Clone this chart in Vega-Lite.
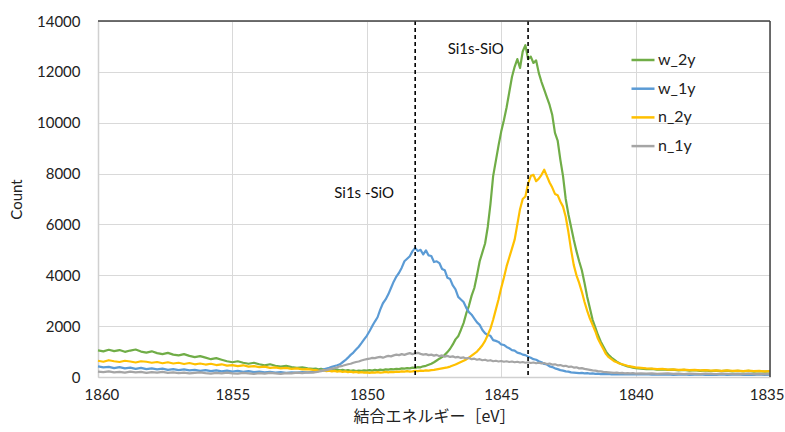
{
  "$schema": "https://vega.github.io/schema/vega-lite/v6.json",
  "width": 672,
  "height": 356,
  "autosize": {"type": "none"},
  "padding": {"left": 98, "top": 21, "right": 15, "bottom": 55},
  "background": "white",
  "config": {
    "view": {"stroke": null},
    "font": "Lato",
    "axis": {
      "gridColor": "#d9d9d9",
      "gridWidth": 1,
      "domainColor": "#d0d0d0",
      "domainWidth": 1.5,
      "ticks": false,
      "labelColor": "#222222",
      "titleColor": "#222222",
      "labelFont": "Lato",
      "labelFontSize": 15,
      "titleFontWeight": "normal"
    }
  },
  "data": {
    "values": [
      {"e": 1860.0, "w_2y": 1050, "w_1y": 420, "n_2y": 640, "n_1y": 210},
      {"e": 1859.8, "w_2y": 1010, "w_1y": 380, "n_2y": 600, "n_1y": 190},
      {"e": 1859.6, "w_2y": 1070, "w_1y": 400, "n_2y": 660, "n_1y": 220},
      {"e": 1859.4, "w_2y": 1020, "w_1y": 350, "n_2y": 620, "n_1y": 180},
      {"e": 1859.2, "w_2y": 1060, "w_1y": 390, "n_2y": 590, "n_1y": 200},
      {"e": 1859.0, "w_2y": 990, "w_1y": 340, "n_2y": 640, "n_1y": 170},
      {"e": 1858.8, "w_2y": 1040, "w_1y": 370, "n_2y": 610, "n_1y": 210},
      {"e": 1858.6, "w_2y": 1080, "w_1y": 320, "n_2y": 570, "n_1y": 180},
      {"e": 1858.4, "w_2y": 1000, "w_1y": 360, "n_2y": 620, "n_1y": 200},
      {"e": 1858.2, "w_2y": 960, "w_1y": 310, "n_2y": 600, "n_1y": 160},
      {"e": 1858.0, "w_2y": 1010, "w_1y": 340, "n_2y": 560, "n_1y": 190},
      {"e": 1857.8, "w_2y": 940, "w_1y": 300, "n_2y": 590, "n_1y": 170},
      {"e": 1857.6, "w_2y": 900, "w_1y": 330, "n_2y": 540, "n_1y": 200},
      {"e": 1857.4, "w_2y": 950, "w_1y": 280, "n_2y": 580, "n_1y": 160},
      {"e": 1857.2, "w_2y": 880, "w_1y": 310, "n_2y": 530, "n_1y": 180},
      {"e": 1857.0, "w_2y": 850, "w_1y": 270, "n_2y": 560, "n_1y": 150},
      {"e": 1856.8, "w_2y": 900, "w_1y": 300, "n_2y": 510, "n_1y": 170},
      {"e": 1856.6, "w_2y": 830, "w_1y": 260, "n_2y": 550, "n_1y": 140},
      {"e": 1856.4, "w_2y": 780, "w_1y": 280, "n_2y": 500, "n_1y": 160},
      {"e": 1856.2, "w_2y": 820, "w_1y": 240, "n_2y": 530, "n_1y": 180},
      {"e": 1856.0, "w_2y": 760, "w_1y": 270, "n_2y": 490, "n_1y": 150},
      {"e": 1855.8, "w_2y": 700, "w_1y": 230, "n_2y": 520, "n_1y": 130},
      {"e": 1855.6, "w_2y": 740, "w_1y": 260, "n_2y": 470, "n_1y": 160},
      {"e": 1855.4, "w_2y": 680, "w_1y": 220, "n_2y": 500, "n_1y": 140},
      {"e": 1855.2, "w_2y": 620, "w_1y": 250, "n_2y": 450, "n_1y": 170},
      {"e": 1855.0, "w_2y": 580, "w_1y": 210, "n_2y": 470, "n_1y": 140},
      {"e": 1854.8, "w_2y": 620, "w_1y": 240, "n_2y": 430, "n_1y": 130},
      {"e": 1854.6, "w_2y": 560, "w_1y": 200, "n_2y": 460, "n_1y": 160},
      {"e": 1854.4, "w_2y": 520, "w_1y": 230, "n_2y": 410, "n_1y": 140},
      {"e": 1854.2, "w_2y": 560, "w_1y": 190, "n_2y": 430, "n_1y": 120},
      {"e": 1854.0, "w_2y": 500, "w_1y": 210, "n_2y": 390, "n_1y": 150},
      {"e": 1853.8, "w_2y": 460, "w_1y": 180, "n_2y": 410, "n_1y": 130},
      {"e": 1853.6, "w_2y": 500, "w_1y": 200, "n_2y": 360, "n_1y": 160},
      {"e": 1853.4, "w_2y": 440, "w_1y": 170, "n_2y": 380, "n_1y": 140},
      {"e": 1853.2, "w_2y": 410, "w_1y": 190, "n_2y": 340, "n_1y": 120},
      {"e": 1853.0, "w_2y": 440, "w_1y": 160, "n_2y": 360, "n_1y": 150},
      {"e": 1852.8, "w_2y": 390, "w_1y": 180, "n_2y": 320, "n_1y": 140},
      {"e": 1852.6, "w_2y": 360, "w_1y": 170, "n_2y": 340, "n_1y": 170},
      {"e": 1852.4, "w_2y": 380, "w_1y": 190, "n_2y": 300, "n_1y": 150},
      {"e": 1852.2, "w_2y": 340, "w_1y": 180, "n_2y": 310, "n_1y": 180},
      {"e": 1852.0, "w_2y": 320, "w_1y": 200, "n_2y": 280, "n_1y": 170},
      {"e": 1851.9, "w_2y": 330, "w_1y": 210, "n_2y": 270, "n_1y": 190},
      {"e": 1851.8, "w_2y": 300, "w_1y": 230, "n_2y": 250, "n_1y": 210},
      {"e": 1851.7, "w_2y": 320, "w_1y": 270, "n_2y": 240, "n_1y": 230},
      {"e": 1851.6, "w_2y": 290, "w_1y": 300, "n_2y": 260, "n_1y": 250},
      {"e": 1851.5, "w_2y": 310, "w_1y": 330, "n_2y": 230, "n_1y": 270},
      {"e": 1851.4, "w_2y": 280, "w_1y": 360, "n_2y": 250, "n_1y": 300},
      {"e": 1851.3, "w_2y": 300, "w_1y": 400, "n_2y": 220, "n_1y": 330},
      {"e": 1851.2, "w_2y": 270, "w_1y": 430, "n_2y": 240, "n_1y": 350},
      {"e": 1851.1, "w_2y": 290, "w_1y": 460, "n_2y": 210, "n_1y": 380},
      {"e": 1851.0, "w_2y": 260, "w_1y": 500, "n_2y": 230, "n_1y": 420},
      {"e": 1850.9, "w_2y": 280, "w_1y": 580, "n_2y": 200, "n_1y": 440},
      {"e": 1850.8, "w_2y": 250, "w_1y": 660, "n_2y": 220, "n_1y": 470},
      {"e": 1850.7, "w_2y": 270, "w_1y": 760, "n_2y": 190, "n_1y": 500},
      {"e": 1850.6, "w_2y": 240, "w_1y": 870, "n_2y": 210, "n_1y": 520},
      {"e": 1850.5, "w_2y": 260, "w_1y": 960, "n_2y": 180, "n_1y": 560},
      {"e": 1850.4, "w_2y": 230, "w_1y": 1080, "n_2y": 200, "n_1y": 590},
      {"e": 1850.3, "w_2y": 250, "w_1y": 1190, "n_2y": 170, "n_1y": 610},
      {"e": 1850.2, "w_2y": 240, "w_1y": 1330, "n_2y": 190, "n_1y": 650},
      {"e": 1850.1, "w_2y": 260, "w_1y": 1480, "n_2y": 170, "n_1y": 680},
      {"e": 1850.0, "w_2y": 250, "w_1y": 1620, "n_2y": 180, "n_1y": 700},
      {"e": 1849.9, "w_2y": 270, "w_1y": 1800, "n_2y": 160, "n_1y": 720},
      {"e": 1849.8, "w_2y": 250, "w_1y": 2000, "n_2y": 180, "n_1y": 750},
      {"e": 1849.7, "w_2y": 280, "w_1y": 2180, "n_2y": 170, "n_1y": 740},
      {"e": 1849.6, "w_2y": 260, "w_1y": 2350, "n_2y": 190, "n_1y": 770},
      {"e": 1849.5, "w_2y": 290, "w_1y": 2650, "n_2y": 170, "n_1y": 790},
      {"e": 1849.4, "w_2y": 270, "w_1y": 2900, "n_2y": 180, "n_1y": 760},
      {"e": 1849.3, "w_2y": 300, "w_1y": 3050, "n_2y": 200, "n_1y": 800},
      {"e": 1849.2, "w_2y": 290, "w_1y": 3250, "n_2y": 180, "n_1y": 830},
      {"e": 1849.1, "w_2y": 310, "w_1y": 3500, "n_2y": 200, "n_1y": 810},
      {"e": 1849.0, "w_2y": 300, "w_1y": 3750, "n_2y": 190, "n_1y": 850},
      {"e": 1848.9, "w_2y": 320, "w_1y": 3950, "n_2y": 210, "n_1y": 880},
      {"e": 1848.8, "w_2y": 310, "w_1y": 4100, "n_2y": 200, "n_1y": 860},
      {"e": 1848.7, "w_2y": 340, "w_1y": 4300, "n_2y": 220, "n_1y": 900},
      {"e": 1848.6, "w_2y": 330, "w_1y": 4550, "n_2y": 210, "n_1y": 870},
      {"e": 1848.5, "w_2y": 350, "w_1y": 4650, "n_2y": 230, "n_1y": 910},
      {"e": 1848.4, "w_2y": 340, "w_1y": 4750, "n_2y": 210, "n_1y": 940},
      {"e": 1848.3, "w_2y": 370, "w_1y": 4950, "n_2y": 220, "n_1y": 900},
      {"e": 1848.2, "w_2y": 360, "w_1y": 5080, "n_2y": 240, "n_1y": 930},
      {"e": 1848.1, "w_2y": 390, "w_1y": 4950, "n_2y": 230, "n_1y": 950},
      {"e": 1848.0, "w_2y": 380, "w_1y": 5000, "n_2y": 250, "n_1y": 910},
      {"e": 1847.9, "w_2y": 420, "w_1y": 4820, "n_2y": 240, "n_1y": 880},
      {"e": 1847.8, "w_2y": 440, "w_1y": 4980, "n_2y": 260, "n_1y": 900},
      {"e": 1847.7, "w_2y": 480, "w_1y": 4780, "n_2y": 250, "n_1y": 860},
      {"e": 1847.6, "w_2y": 520, "w_1y": 4760, "n_2y": 270, "n_1y": 880},
      {"e": 1847.5, "w_2y": 580, "w_1y": 4520, "n_2y": 280, "n_1y": 840},
      {"e": 1847.4, "w_2y": 650, "w_1y": 4550, "n_2y": 300, "n_1y": 870},
      {"e": 1847.3, "w_2y": 720, "w_1y": 4480, "n_2y": 320, "n_1y": 820},
      {"e": 1847.2, "w_2y": 780, "w_1y": 4250, "n_2y": 340, "n_1y": 850},
      {"e": 1847.1, "w_2y": 870, "w_1y": 4200, "n_2y": 360, "n_1y": 800},
      {"e": 1847.0, "w_2y": 980, "w_1y": 3900, "n_2y": 380, "n_1y": 830},
      {"e": 1846.9, "w_2y": 1110, "w_1y": 3850, "n_2y": 410, "n_1y": 790},
      {"e": 1846.8, "w_2y": 1280, "w_1y": 3600, "n_2y": 450, "n_1y": 810},
      {"e": 1846.7, "w_2y": 1480, "w_1y": 3450, "n_2y": 490, "n_1y": 770},
      {"e": 1846.6, "w_2y": 1600, "w_1y": 3150, "n_2y": 540, "n_1y": 790},
      {"e": 1846.5, "w_2y": 1850, "w_1y": 3050, "n_2y": 590, "n_1y": 750},
      {"e": 1846.4, "w_2y": 2120, "w_1y": 2950, "n_2y": 640, "n_1y": 770},
      {"e": 1846.3, "w_2y": 2500, "w_1y": 2720, "n_2y": 690, "n_1y": 730},
      {"e": 1846.2, "w_2y": 2800, "w_1y": 2550, "n_2y": 760, "n_1y": 750},
      {"e": 1846.1, "w_2y": 3200, "w_1y": 2450, "n_2y": 840, "n_1y": 700},
      {"e": 1846.0, "w_2y": 3500, "w_1y": 2300, "n_2y": 920, "n_1y": 720},
      {"e": 1845.9, "w_2y": 4000, "w_1y": 2150, "n_2y": 1000, "n_1y": 680},
      {"e": 1845.8, "w_2y": 4550, "w_1y": 2050, "n_2y": 1120, "n_1y": 700},
      {"e": 1845.7, "w_2y": 4900, "w_1y": 1850, "n_2y": 1250, "n_1y": 660},
      {"e": 1845.6, "w_2y": 5250, "w_1y": 1720, "n_2y": 1420, "n_1y": 680},
      {"e": 1845.5, "w_2y": 5900, "w_1y": 1650, "n_2y": 1650, "n_1y": 640},
      {"e": 1845.4, "w_2y": 6800, "w_1y": 1620, "n_2y": 1900, "n_1y": 660},
      {"e": 1845.3, "w_2y": 7900, "w_1y": 1450, "n_2y": 2250, "n_1y": 620},
      {"e": 1845.2, "w_2y": 8500, "w_1y": 1420, "n_2y": 2650, "n_1y": 640},
      {"e": 1845.1, "w_2y": 9100, "w_1y": 1380, "n_2y": 3050, "n_1y": 610},
      {"e": 1845.0, "w_2y": 9650, "w_1y": 1280, "n_2y": 3500, "n_1y": 630},
      {"e": 1844.9, "w_2y": 10100, "w_1y": 1260, "n_2y": 3900, "n_1y": 600},
      {"e": 1844.8, "w_2y": 10600, "w_1y": 1180, "n_2y": 4350, "n_1y": 620},
      {"e": 1844.7, "w_2y": 11200, "w_1y": 1130, "n_2y": 4700, "n_1y": 590},
      {"e": 1844.6, "w_2y": 11800, "w_1y": 1060, "n_2y": 5050, "n_1y": 610},
      {"e": 1844.5, "w_2y": 12200, "w_1y": 1040, "n_2y": 5400, "n_1y": 580},
      {"e": 1844.4, "w_2y": 12500, "w_1y": 960, "n_2y": 6000, "n_1y": 600},
      {"e": 1844.3, "w_2y": 12150, "w_1y": 930, "n_2y": 6600, "n_1y": 570},
      {"e": 1844.2, "w_2y": 12800, "w_1y": 880, "n_2y": 7000, "n_1y": 590},
      {"e": 1844.1, "w_2y": 13050, "w_1y": 860, "n_2y": 7100, "n_1y": 560},
      {"e": 1844.0, "w_2y": 12500, "w_1y": 800, "n_2y": 7600, "n_1y": 580},
      {"e": 1843.9, "w_2y": 12600, "w_1y": 760, "n_2y": 7900, "n_1y": 550},
      {"e": 1843.8, "w_2y": 12350, "w_1y": 700, "n_2y": 7950, "n_1y": 570},
      {"e": 1843.7, "w_2y": 12450, "w_1y": 680, "n_2y": 7700, "n_1y": 540},
      {"e": 1843.6, "w_2y": 11950, "w_1y": 620, "n_2y": 7800, "n_1y": 560},
      {"e": 1843.5, "w_2y": 11600, "w_1y": 580, "n_2y": 7950, "n_1y": 530},
      {"e": 1843.4, "w_2y": 11300, "w_1y": 510, "n_2y": 8150, "n_1y": 550},
      {"e": 1843.3, "w_2y": 11000, "w_1y": 490, "n_2y": 7900, "n_1y": 510},
      {"e": 1843.2, "w_2y": 10700, "w_1y": 420, "n_2y": 7650, "n_1y": 530},
      {"e": 1843.1, "w_2y": 10300, "w_1y": 390, "n_2y": 7450, "n_1y": 490},
      {"e": 1843.0, "w_2y": 9600, "w_1y": 340, "n_2y": 7200, "n_1y": 500},
      {"e": 1842.9, "w_2y": 9300, "w_1y": 310, "n_2y": 7150, "n_1y": 460},
      {"e": 1842.8, "w_2y": 8550, "w_1y": 270, "n_2y": 6900, "n_1y": 470},
      {"e": 1842.7, "w_2y": 7900, "w_1y": 250, "n_2y": 6700, "n_1y": 430},
      {"e": 1842.6, "w_2y": 7000, "w_1y": 220, "n_2y": 6300, "n_1y": 440},
      {"e": 1842.5, "w_2y": 6400, "w_1y": 210, "n_2y": 5700, "n_1y": 400},
      {"e": 1842.4, "w_2y": 5900, "w_1y": 180, "n_2y": 5000, "n_1y": 410},
      {"e": 1842.3, "w_2y": 5400, "w_1y": 170, "n_2y": 4400, "n_1y": 370},
      {"e": 1842.2, "w_2y": 4950, "w_1y": 160, "n_2y": 4000, "n_1y": 380},
      {"e": 1842.1, "w_2y": 4550, "w_1y": 150, "n_2y": 3700, "n_1y": 340},
      {"e": 1842.0, "w_2y": 4200, "w_1y": 160, "n_2y": 3350, "n_1y": 350},
      {"e": 1841.9, "w_2y": 3700, "w_1y": 140, "n_2y": 2950, "n_1y": 320},
      {"e": 1841.8, "w_2y": 3150, "w_1y": 150, "n_2y": 2600, "n_1y": 300},
      {"e": 1841.7, "w_2y": 2700, "w_1y": 130, "n_2y": 2300, "n_1y": 280},
      {"e": 1841.6, "w_2y": 2250, "w_1y": 140, "n_2y": 2050, "n_1y": 260},
      {"e": 1841.5, "w_2y": 1950, "w_1y": 120, "n_2y": 1800, "n_1y": 250},
      {"e": 1841.4, "w_2y": 1650, "w_1y": 130, "n_2y": 1500, "n_1y": 230},
      {"e": 1841.3, "w_2y": 1400, "w_1y": 110, "n_2y": 1300, "n_1y": 220},
      {"e": 1841.2, "w_2y": 1200, "w_1y": 120, "n_2y": 1100, "n_1y": 200},
      {"e": 1841.1, "w_2y": 1000, "w_1y": 110, "n_2y": 900, "n_1y": 190},
      {"e": 1841.0, "w_2y": 860, "w_1y": 120, "n_2y": 780, "n_1y": 180},
      {"e": 1840.9, "w_2y": 760, "w_1y": 100, "n_2y": 700, "n_1y": 170},
      {"e": 1840.8, "w_2y": 680, "w_1y": 110, "n_2y": 620, "n_1y": 160},
      {"e": 1840.7, "w_2y": 600, "w_1y": 100, "n_2y": 580, "n_1y": 170},
      {"e": 1840.6, "w_2y": 540, "w_1y": 110, "n_2y": 530, "n_1y": 150},
      {"e": 1840.5, "w_2y": 490, "w_1y": 100, "n_2y": 500, "n_1y": 160},
      {"e": 1840.4, "w_2y": 450, "w_1y": 110, "n_2y": 470, "n_1y": 140},
      {"e": 1840.3, "w_2y": 420, "w_1y": 100, "n_2y": 440, "n_1y": 150},
      {"e": 1840.2, "w_2y": 400, "w_1y": 110, "n_2y": 420, "n_1y": 140},
      {"e": 1840.1, "w_2y": 370, "w_1y": 100, "n_2y": 400, "n_1y": 150},
      {"e": 1840.0, "w_2y": 350, "w_1y": 110, "n_2y": 380, "n_1y": 130},
      {"e": 1839.8, "w_2y": 330, "w_1y": 100, "n_2y": 360, "n_1y": 140},
      {"e": 1839.6, "w_2y": 310, "w_1y": 110, "n_2y": 340, "n_1y": 130},
      {"e": 1839.4, "w_2y": 320, "w_1y": 90, "n_2y": 330, "n_1y": 140},
      {"e": 1839.2, "w_2y": 290, "w_1y": 100, "n_2y": 310, "n_1y": 120},
      {"e": 1839.0, "w_2y": 300, "w_1y": 90, "n_2y": 320, "n_1y": 130},
      {"e": 1838.8, "w_2y": 280, "w_1y": 100, "n_2y": 290, "n_1y": 140},
      {"e": 1838.6, "w_2y": 290, "w_1y": 80, "n_2y": 300, "n_1y": 120},
      {"e": 1838.4, "w_2y": 260, "w_1y": 90, "n_2y": 280, "n_1y": 130},
      {"e": 1838.2, "w_2y": 280, "w_1y": 100, "n_2y": 290, "n_1y": 110},
      {"e": 1838.0, "w_2y": 250, "w_1y": 80, "n_2y": 270, "n_1y": 130},
      {"e": 1837.8, "w_2y": 270, "w_1y": 90, "n_2y": 280, "n_1y": 120},
      {"e": 1837.6, "w_2y": 240, "w_1y": 100, "n_2y": 260, "n_1y": 110},
      {"e": 1837.4, "w_2y": 260, "w_1y": 80, "n_2y": 270, "n_1y": 130},
      {"e": 1837.2, "w_2y": 230, "w_1y": 90, "n_2y": 250, "n_1y": 120},
      {"e": 1837.0, "w_2y": 250, "w_1y": 80, "n_2y": 260, "n_1y": 110},
      {"e": 1836.8, "w_2y": 230, "w_1y": 100, "n_2y": 240, "n_1y": 130},
      {"e": 1836.6, "w_2y": 250, "w_1y": 80, "n_2y": 260, "n_1y": 120},
      {"e": 1836.4, "w_2y": 220, "w_1y": 90, "n_2y": 240, "n_1y": 110},
      {"e": 1836.2, "w_2y": 240, "w_1y": 100, "n_2y": 250, "n_1y": 120},
      {"e": 1836.0, "w_2y": 220, "w_1y": 80, "n_2y": 230, "n_1y": 110},
      {"e": 1835.8, "w_2y": 240, "w_1y": 90, "n_2y": 250, "n_1y": 130},
      {"e": 1835.6, "w_2y": 210, "w_1y": 80, "n_2y": 230, "n_1y": 110},
      {"e": 1835.4, "w_2y": 230, "w_1y": 100, "n_2y": 240, "n_1y": 120},
      {"e": 1835.2, "w_2y": 210, "w_1y": 80, "n_2y": 220, "n_1y": 110},
      {"e": 1835.0, "w_2y": 220, "w_1y": 90, "n_2y": 230, "n_1y": 120}
    ]
  },
  "layer": [
    {
      "transform": [{"fold": ["w_2y", "w_1y", "n_2y", "n_1y"], "as": ["series", "count"]}],
      "mark": {"type": "line", "strokeWidth": 2.2, "strokeJoin": "round"},
      "encoding": {
        "x": {
          "field": "e", "type": "quantitative",
          "scale": {"domain": [1835, 1860], "reverse": true, "nice": false, "zero": false},
          "axis": {
            "values": [1835, 1840, 1845, 1850, 1855, 1860],
            "format": "d",
            "labelFlush": true,
            "labelFlushOffset": 14,
            "title": "結合エネルギー［eV］",
            "titleFont": "Noto Sans CJK JP",
            "titleFontSize": 16,
            "titlePadding": 6,
            "labelPadding": 10
          }
        },
        "y": {
          "field": "count", "type": "quantitative",
          "scale": {"domain": [0, 14000], "nice": false},
          "axis": {
            "values": [0, 2000, 4000, 6000, 8000, 10000, 12000, 14000],
            "format": "d",
            "labelFlush": false,
            "title": "Count",
            "titleFontSize": 15,
            "titlePadding": 12,
            "labelPadding": 18
          }
        },
        "color": {
          "field": "series", "type": "nominal",
          "scale": {
            "domain": ["w_2y", "w_1y", "n_2y", "n_1y"],
            "range": ["#70AD47", "#5B9BD5", "#FFC000", "#A5A5A5"]
          },
          "legend": {
            "title": null,
            "orient": "none",
            "legendX": 532,
            "legendY": 26,
            "symbolType": "stroke",
            "symbolSize": 529,
            "symbolStrokeWidth": 2.5,
            "labelFontSize": 16,
            "labelColor": "#222222",
            "labelOffset": 2,
            "rowPadding": 7.7
          }
        }
      }
    },
    {
      "data": {"values": [{"e": 1848.2}, {"e": 1844.0}]},
      "mark": {"type": "rule", "color": "black", "strokeWidth": 1.6, "strokeDash": [4, 3]},
      "encoding": {"x": {"field": "e", "type": "quantitative"}}
    },
    {
      "data": {"values": [{"e": 1845.95, "c": 12900, "label": "Si1s-SiO"}, {"e": 1850.1, "c": 7230, "label": "Si1s -SiO"}]},
      "mark": {"type": "text", "fontSize": 15, "color": "#111111", "font": "Lato"},
      "encoding": {
        "x": {"field": "e", "type": "quantitative"},
        "y": {"field": "c", "type": "quantitative"},
        "text": {"field": "label"}
      }
    },
    {
      "data": {"values": [{"c": 14000}]},
      "mark": {"type": "rule", "color": "#404040", "strokeWidth": 1.5},
      "encoding": {"y": {"field": "c", "type": "quantitative"}}
    },
    {
      "data": {"values": [{"e": 1835}]},
      "mark": {"type": "rule", "color": "#404040", "strokeWidth": 1.5},
      "encoding": {"x": {"field": "e", "type": "quantitative"}}
    }
  ]
}
